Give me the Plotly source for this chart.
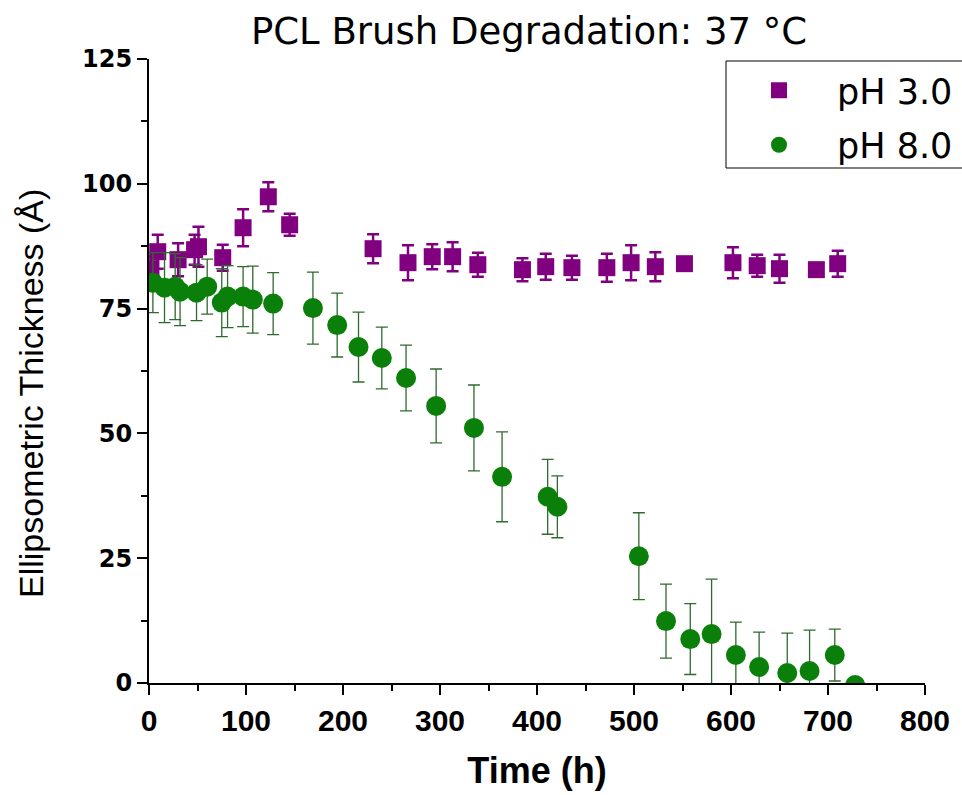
import plotly.graph_objects as go

# ---- data ----
time_ph3 = [2, 9, 30, 47, 51, 76, 97, 123, 145, 231, 267, 292, 313, 339, 385, 409,
            436, 472, 497, 522, 552, 602, 627, 650, 688, 710]
thick_ph3 = [83.0, 86.4, 84.8, 86.8, 87.4, 85.2, 91.2, 97.4, 91.8, 87.0, 84.2, 85.4,
             85.4, 83.8, 82.8, 83.4, 83.2, 83.2, 84.2, 83.4, 84.0, 84.2, 83.6, 83.0,
             82.8, 84.0]
err_ph3 = [2.5, 3.4, 3.3, 3.0, 4.0, 2.6, 3.7, 2.9, 2.2, 2.9, 3.5, 2.5, 2.9, 2.4, 2.3,
           2.6, 2.4, 2.8, 3.5, 2.9, 1.0, 3.1, 2.2, 2.8, 1.0, 2.6]

time_ph8 = [4, 16, 27, 32, 49, 60, 75, 81, 97, 107, 128, 169, 194, 216, 240, 265, 296,
            335, 364, 411, 421, 505, 533, 558, 580, 605, 629, 658, 681, 707, 728]
thick_ph8 = [80.2, 79.2, 79.4, 78.4, 78.2, 79.4, 76.2, 77.4, 77.4, 76.8, 76.0, 75.1,
             71.7, 67.3, 65.1, 61.1, 55.5, 51.1, 41.3, 37.3, 35.3, 25.4, 12.4, 8.8,
             9.8, 5.6, 3.2, 2.0, 2.4, 5.6, -0.4]
err_ph8 = [6.0, 7.0, 6.6, 6.8, 5.6, 5.5, 6.8, 6.2, 6.0, 6.7, 6.2, 7.2, 6.4, 7.0, 6.2,
           6.6, 7.4, 8.6, 9.0, 7.5, 6.2, 8.7, 7.4, 7.1, 11.0, 6.6, 7.0, 8.0, 8.2, 5.2,
           0.0]

x_ticks = [0, 100, 200, 300, 400, 500, 600, 700, 800]
y_ticks = [0, 25, 50, 75, 100, 125]

PURPLE = "#800080"
GREEN = "#0a800a"

fig = go.Figure()
fig.add_trace(go.Scatter(
    x=time_ph3, y=thick_ph3, mode="markers", name="pH 3.0", legendgroup="a",
    marker=dict(symbol="square", size=17, color=PURPLE),
    error_y=dict(type="data", array=err_ph3, color=PURPLE, thickness=2.5, width=6),
))
fig.add_trace(go.Scatter(
    x=time_ph8, y=thick_ph8, mode="markers", name="pH 8.0", legendgroup="b",
    marker=dict(symbol="circle", size=20, color=GREEN),
    error_y=dict(type="data", array=err_ph8, color="#2f6a2f", thickness=1.3, width=6),
))

L, R, T, B = 149, 37, 59, 112
W, H = 962, 795
pw, ph = W - L - R, H - T - B

fig.update_layout(
    width=W, height=H,
    margin=dict(l=L, r=R, t=T, b=B, autoexpand=False),
    paper_bgcolor="white", plot_bgcolor="white",
    title=dict(text="PCL Brush Degradation: 37 °C", x=529 / W, xanchor="center",
               y=1 - 31 / H, yanchor="middle",
               font=dict(family="DejaVu Sans", size=37, color="black")),
    showlegend=True,
    legend=dict(x=(721 - L) / pw, y=1 - (61 - T) / ph, xanchor="left", yanchor="top",
                bgcolor="rgba(0,0,0,0)", borderwidth=0, itemwidth=106,
                tracegroupgap=6,
                font=dict(family="DejaVu Sans", size=35, color="black")),
    shapes=[dict(type="rect", xref="paper", yref="paper",
                 x0=(726 - L) / pw, x1=(975 - L) / pw,
                 y0=1 - (168 - T) / ph, y1=1 - (61 - T) / ph,
                 line=dict(color="black", width=1), fillcolor="rgba(0,0,0,0)")],
    annotations=[dict(text="Ellipsometric Thickness (Å)", xref="paper", yref="paper",
                      x=(31 - L) / pw, y=(683 - 394) / ph, xanchor="center",
                      yanchor="middle", textangle=-90, showarrow=False,
                      font=dict(family="Liberation Sans, Arial, sans-serif", size=34,
                                color="black"))],
)

fig.update_xaxes(
    range=[0, 800], tickvals=x_ticks, ticktext=[str(v) for v in x_ticks],
    showgrid=False, zeroline=False, showline=True, linecolor="black", linewidth=2,
    ticks="outside", ticklen=10, tickwidth=2, tickcolor="black",
    minor=dict(dtick=50, ticks="outside", ticklen=6, tickwidth=2, tickcolor="black"),
    tickfont=dict(family="Liberation Sans Narrow, Arial Narrow, sans-serif", size=30,
                  color="black", weight="bold"),
    title=dict(text="Time (h)", standoff=22,
               font=dict(family="Liberation Sans Narrow, Arial Narrow, sans-serif",
                         size=36, color="black", weight="bold")),
)
fig.update_yaxes(
    range=[0, 125], tickvals=y_ticks, ticktext=[str(v) for v in y_ticks],
    showgrid=False, zeroline=False, showline=True, linecolor="black", linewidth=2,
    ticks="outside", ticklen=10, tickwidth=2, tickcolor="black",
    minor=dict(dtick=12.5, ticks="outside", ticklen=6, tickwidth=2, tickcolor="black"),
    tickfont=dict(family="DejaVu Sans", size=24, color="black", weight="bold"),
)

fig.write_html("out.html")
